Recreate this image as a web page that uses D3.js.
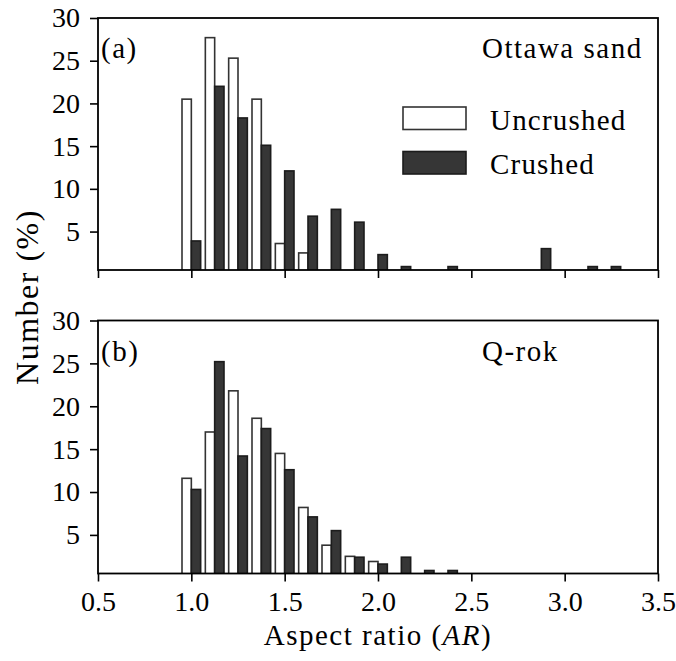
<!DOCTYPE html>
<html>
<head>
<meta charset="utf-8">
<script src="https://cdn.jsdelivr.net/npm/d3@7"></script>
<style>
	body { margin: 0; background: #fff; }
	svg text { font-family: "Liberation Serif", "DejaVu Serif", serif; fill: #000; }
</style>
</head>
<body>
<script>
// bin centres of the aspect-ratio histogram
let bins = [1.0, 1.125, 1.25, 1.375, 1.5, 1.625, 1.75, 1.875, 2.0, 2.125, 2.25, 2.375, 2.5, 2.625, 2.75, 2.875, 3.0, 3.125, 3.25];

let ottawaUncrushed = [20.5, 27.7, 25.3, 20.5, 3.6, 2.5, 0, 0, 0, 0, 0, 0, 0, 0, 0, 0, 0, 0, 0];
let ottawaCrushed   = [3.9, 22.0, 18.3, 15.1, 12.1, 6.8, 7.6, 6.1, 2.3, 0.9, 0, 0.9, 0, 0, 0, 3.0, 0, 0.9, 0.9];

let qrokUncrushed = [11.6, 17.0, 21.8, 18.6, 14.5, 8.2, 3.8, 2.5, 1.9, 0, 0, 0, 0, 0, 0, 0, 0, 0, 0];
let qrokCrushed   = [10.3, 25.2, 14.2, 17.4, 12.6, 7.1, 5.5, 2.4, 1.6, 2.4, 0.85, 0.85, 0, 0, 0, 0, 0, 0, 0];

let xTicks = [0.5, 1.0, 1.5, 2.0, 2.5, 3.0, 3.5];
let yTicks = [5, 10, 15, 20, 25, 30];
let seriesNames = ["Uncrushed", "Crushed"];

let width = 676, height = 661;
let left = 98, right = 658;
let barW = 0.05;
let fontSize = 28;
let labelSize = 29;
let spacing = "1.5px";

let svg = d3.select("body").append("svg").attr("width", width).attr("height", height);

let x = d3.scaleLinear().domain([0.5, 3.5]).range([left, right]);

function panel(top, bottom, uncrushed, crushed, tag, name, showXLabels, id) {
	let y = d3.scaleLinear().domain([0.5, 30]).range([bottom, top]);
	let g = svg.append("g");

	g.append("clipPath").attr("id", id).append("rect")
		.attr("x", left).attr("y", top).attr("width", right - left).attr("height", bottom - top);

	let bars = g.append("g").attr("clip-path", "url(#" + id + ")");

	// uncrushed: left half of each bin
	bars.selectAll("rect.u").data(bins).enter().append("rect").attr("class", "u")
		.attr("x", d => x(d - barW))
		.attr("width", d => x(d) - x(d - barW))
		.attr("y", (d, i) => y(uncrushed[i]))
		.attr("height", (d, i) => y(0) - y(uncrushed[i]))
		.attr("fill", "#fff").attr("stroke", "#333").attr("stroke-width", 1.6)
		.style("display", (d, i) => uncrushed[i] > 0 ? null : "none");

	// crushed: right half
	bars.selectAll("rect.c").data(bins).enter().append("rect").attr("class", "c")
		.attr("x", d => x(d))
		.attr("width", d => x(d + barW) - x(d))
		.attr("y", (d, i) => y(crushed[i]))
		.attr("height", (d, i) => y(0) - y(crushed[i]))
		.attr("fill", "#363636").attr("stroke", "#1c1c1c").attr("stroke-width", 1.6)
		.style("display", (d, i) => crushed[i] > 0 ? null : "none");

	let yAxis = g.append("g").attr("transform", "translate(" + left + ",0)")
		.call(d3.axisLeft(y).tickValues(yTicks).tickFormat(d3.format("d")).tickSize(8).tickPadding(10));
	yAxis.select(".domain").remove();
	yAxis.selectAll("text").attr("font-size", fontSize).attr("font-family", null);
	yAxis.selectAll("line").attr("stroke-width", 1.6);

	let xAxis = g.append("g").attr("transform", "translate(0," + bottom + ")")
		.call(d3.axisBottom(x).tickValues(xTicks).tickFormat(showXLabels ? d3.format(".1f") : "").tickSize(8).tickPadding(10));
	xAxis.select(".domain").remove();
	xAxis.selectAll("text").attr("font-size", fontSize).attr("font-family", null);
	xAxis.selectAll("line").attr("stroke-width", 1.6);

	g.append("rect")
		.attr("x", left).attr("y", top).attr("width", right - left).attr("height", bottom - top)
		.attr("fill", "none").attr("stroke", "#000").attr("stroke-width", 1.8);

	g.append("text").attr("x", left + 3).attr("y", top + 40).attr("font-size", labelSize)
		.attr("letter-spacing", spacing).text(tag);
	g.append("text").attr("x", 482).attr("y", top + 40).attr("font-size", labelSize)
		.attr("letter-spacing", spacing).text(name);
	return y;
}

panel(18, 270, ottawaUncrushed, ottawaCrushed, "(a)", "Ottawa sand", false, "clipA");
panel(320.5, 573.5, qrokUncrushed, qrokCrushed, "(b)", "Q-rok", true, "clipB");

// legend in the top panel
let legend = svg.append("g").selectAll("g").data(seriesNames).enter().append("g")
	.attr("transform", (d, i) => "translate(403," + (107 + i * 44.5) + ")");
legend.append("rect").attr("width", 63).attr("height", 22.5)
	.attr("fill", (d, i) => i === 0 ? "#fff" : "#363636")
	.attr("stroke", (d, i) => i === 0 ? "#333" : "#1c1c1c").attr("stroke-width", 1.6);
legend.append("text").attr("x", 87).attr("y", 22.5).attr("font-size", labelSize)
	.attr("letter-spacing", "1.2px").text(d => d);

// axis titles
let xTitle = svg.append("text").attr("x", (left + right) / 2).attr("y", 645)
	.attr("text-anchor", "middle").attr("font-size", labelSize).attr("letter-spacing", spacing);
xTitle.append("tspan").text("Aspect ratio (");
xTitle.append("tspan").attr("font-style", "italic").text("AR");
xTitle.append("tspan").text(")");

svg.append("text").attr("transform", "translate(38,297) rotate(-90)")
	.attr("text-anchor", "middle").attr("font-size", 32).attr("letter-spacing", "1.5px").text("Number (%)");
</script>
</body>
</html>
